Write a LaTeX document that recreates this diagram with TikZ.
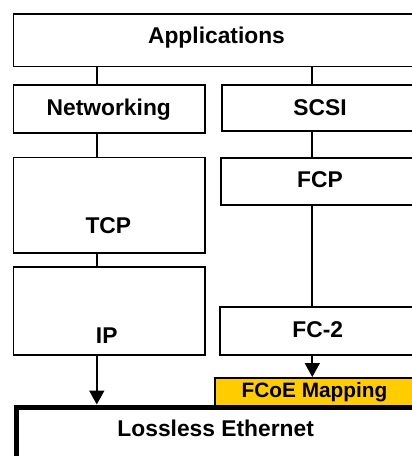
\documentclass[tikz,border=0pt]{standalone}
\usepackage{fontspec}
\setmainfont{Liberation Sans}
\usetikzlibrary{arrows.meta}
\definecolor{fcoeyellow}{HTML}{FFCC00}
\begin{document}
\begin{tikzpicture}[x=1pt,y=-1pt,
  box/.style={draw=black, line width=1.8pt, fill=white, rectangle, inner sep=0pt, anchor=north west},
  lbl/.style={font=\fontsize{22.8}{26}\selectfont\bfseries, anchor=base, inner sep=0pt},
  conn/.style={draw=black, line width=1.8pt},
  arr/.style={conn, -{Triangle[width=15pt,length=14pt]}}]
\useasboundingbox (0,0) rectangle (412,456);
\clip (0,0) rectangle (412,456);
\fill[white] (0,0) rectangle (412,456);
\coordinate (cl) at (96.8,0);
\coordinate (cr) at (312.3,0);
% boxes
\node[box, minimum width=417.5pt, minimum height=52.5pt] (app) at (12.5,13) {};
\node[box, minimum width=191.8pt, minimum height=48pt] (net) at (12.5,84.3) {};
\node[box, minimum width=209pt, minimum height=45.7pt] (scsi) at (221,84.3) {};
\node[box, minimum width=191.8pt, minimum height=95.8pt] (tcp) at (12.5,156.5) {};
\node[box, minimum width=191.8pt, minimum height=87.7pt] (ip) at (12.5,266) {};
\node[box, minimum width=209.7pt, minimum height=47.3pt] (fcp) at (220.3,157) {};
\node[box, minimum width=210.7pt, minimum height=47.5pt] (fc2) at (219.3,306.2) {};
\node[box, fill=fcoeyellow, line width=1.5pt, minimum width=215.7pt, minimum height=27.5pt] (fcoe) at (214.3,377) {};
% labels
\node[lbl] (tapp) at (216.5,43.3) {Applications};
\node[lbl] (tnet) at (108.8,115) {Networking};
\node[lbl] (tscsi) at (320,115) {SCSI};
\node[lbl] (ttcp) at (108.3,233.3) {TCP};
\node[lbl] (tip) at (106.7,343.3) {IP};
\node[lbl] (tfcp) at (320,187.3) {FCP};
\node[lbl] (tfc2) at (317.8,337.7) {FC-2};
\node[lbl, font=\fontsize{20.8}{24}\selectfont\bfseries] (tfcoe) at (314.5,397) {FCoE Mapping};
% ethernet
\node[box, line width=5pt, minimum width=416.5pt, minimum height=70pt] (eth) at (13.5,404.5) {};
\node[lbl] (teth) at (215.7,436.7) {Lossless Ethernet};
% connectors
\draw[conn] (app.south -| cl) -- (net.north -| cl);
\draw[conn] (app.south -| cr) -- (scsi.north -| cr);
\draw[conn] (net.south -| cl) -- (tcp.north -| cl);
\draw[conn] (tcp.south -| cl) -- (ip.north -| cl);
\draw[conn] (scsi.south -| cr) -- (fcp.north -| cr);
\draw[conn] (fcp.south -| cr) -- (fc2.north -| cr);
\draw[arr] (ip.south -| cl) -- (eth.north -| cl);
\draw[arr] (fc2.south -| cr) -- (fcoe.north -| cr);
\end{tikzpicture}
\end{document}
